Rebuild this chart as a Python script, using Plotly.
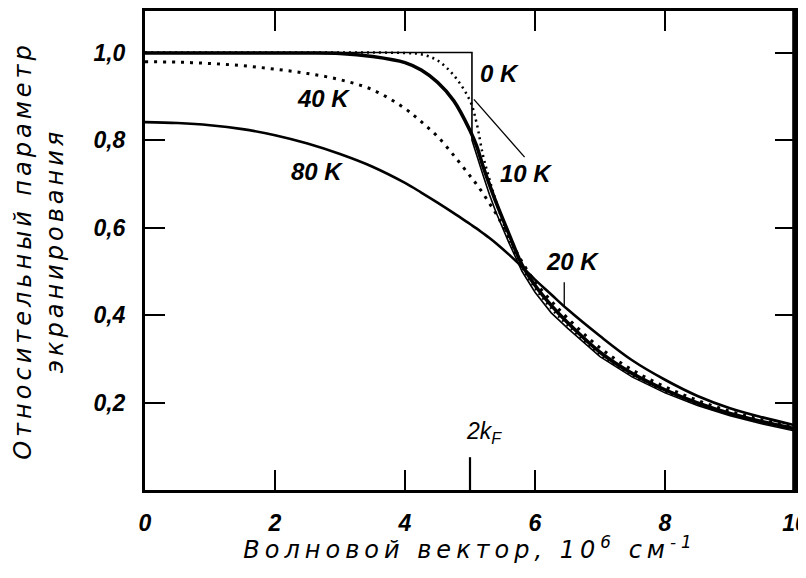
import plotly.graph_objects as go

# ---- data ----
x_0K = [0, 5.03, 5.03, 5.1, 5.2, 5.3, 5.4, 5.6, 5.8, 6, 6.25, 6.5, 7, 7.5, 8, 8.5, 9, 9.5, 10]
y_0K = [1.0, 1.0, 0.80, 0.765, 0.72, 0.675, 0.635, 0.565, 0.50, 0.452, 0.405, 0.37, 0.305, 0.258,
        0.222, 0.193, 0.17, 0.151, 0.135]

x_T = [0, 0.5, 1, 1.5, 2, 2.5, 3, 3.5, 4, 4.25, 4.5, 4.75, 5, 5.1, 5.2, 5.3, 5.4, 5.6, 5.8, 6,
       6.25, 6.5, 7, 7.5, 8, 8.5, 9, 9.5, 10]
y_10K = [1.0, 1.0, 1.0, 1.0, 1.0, 1.0, 1.0, 1.0, 0.999, 0.996, 0.982, 0.948, 0.89, 0.84, 0.765,
         0.71, 0.66, 0.575, 0.51, 0.462, 0.415, 0.377, 0.31, 0.262, 0.226, 0.196, 0.173, 0.154, 0.138]
y_20K = [0.999, 0.999, 0.999, 0.999, 0.999, 0.999, 0.998, 0.991, 0.977, 0.96, 0.932, 0.89, 0.822,
         0.787, 0.74, 0.698, 0.658, 0.585, 0.515, 0.468, 0.422, 0.383, 0.315, 0.266, 0.229, 0.199,
         0.175, 0.156, 0.14]
y_40K = [0.979, 0.978, 0.975, 0.97, 0.962, 0.952, 0.938, 0.915, 0.872, 0.842, 0.808, 0.765, 0.718,
         0.699, 0.678, 0.655, 0.632, 0.577, 0.522, 0.476, 0.432, 0.393, 0.325, 0.274, 0.236, 0.205,
         0.18, 0.16, 0.144]
y_80K = [0.841, 0.839, 0.834, 0.825, 0.811, 0.792, 0.768, 0.739, 0.702, 0.68, 0.657, 0.633, 0.608,
         0.598, 0.587, 0.576, 0.564, 0.538, 0.51, 0.481, 0.447, 0.413, 0.352, 0.296, 0.252, 0.215,
         0.187, 0.166, 0.148]

x_ticks = [0, 2, 4, 6, 8, 10]
x_ticktext = ["0", "2", "4", "6", "8", "10"]
y_ticks = [0.2, 0.4, 0.6, 0.8, 1.0]
y_ticktext = ["0,2", "0,4", "0,6", "0,8", "1,0"]
KF2 = 5.0  # 2k_F

curve_labels = ["0 K", "10 K", "20 K", "40 K", "80 K"]
label_x = [5.45, 5.86, 6.57, 2.75, 2.65]
label_y = [0.952, 0.724, 0.522, 0.896, 0.728]

FONT = "Liberation Sans, Arial, sans-serif"
TFONT = "DejaVu Sans, sans-serif"

fig = go.Figure()
fig.add_trace(go.Scatter(x=x_0K, y=y_0K, mode="lines", line=dict(color="black", width=1.6)))
fig.add_trace(go.Scatter(x=x_T, y=y_10K, mode="lines", line_shape="spline",
                         line=dict(color="black", width=2.5, dash="2px,4px")))
fig.add_trace(go.Scatter(x=x_T, y=y_20K, mode="lines", line_shape="spline",
                         line=dict(color="black", width=3.6)))
fig.add_trace(go.Scatter(x=x_T, y=y_40K, mode="lines", line_shape="spline",
                         line=dict(color="black", width=3, dash="3px,6px")))
fig.add_trace(go.Scatter(x=x_T, y=y_80K, mode="lines", line_shape="spline",
                         line=dict(color="black", width=2.6)))

for t, lx, ly in zip(curve_labels, label_x, label_y):
    fig.add_annotation(x=lx, y=ly, text=t, showarrow=False,
                       font=dict(family=FONT, size=24, color="black", style="italic", weight="bold"))

# leader lines for 10 K and 20 K
fig.add_shape(type="line", x0=5.84, y0=0.761, x1=5.06, y1=0.893, line=dict(color="black", width=1.3))
fig.add_shape(type="line", x0=6.45, y0=0.475, x1=6.45, y1=0.42, line=dict(color="black", width=1.3))

# 2k_F marker (longer tick at 2k_F)
fig.add_shape(type="line", x0=KF2, y0=0, x1=KF2, y1=0.075, line=dict(color="black", width=2.2),
              layer="above")
fig.add_annotation(x=5.22, y=0.132, text="2<i>k</i><sub>F</sub>", showarrow=False,
                   font=dict(family=FONT, size=23, color="black", style="italic"))

# right frame edge drawn explicitly in paper coordinates (not clipped to the plot area)
fig.add_shape(type="line", xref="paper", yref="paper", x0=0.998, x1=0.998, y0=0, y1=1,
              line=dict(color="black", width=3), layer="above")

axis_common = dict(showgrid=False, zeroline=False, showline=True, linecolor="black", linewidth=3,
                   mirror="ticks", ticks="inside", ticklen=20, tickwidth=1.5, tickcolor="black",
                   tickfont=dict(family=FONT, size=23, color="black", style="italic", weight="bold"))

fig.update_xaxes(range=[0, 10], tickvals=x_ticks, ticktext=x_ticktext, ticklabelstandoff=10,
                 ticklabeloverflow="allow",
                 title=dict(text='<span style="letter-spacing:5px">Волновой вектор, 10<sup>6</sup> см<sup>-1</sup></span>',
                            standoff=6,
                            font=dict(family=TFONT, size=24, color="black", style="italic")),
                 **axis_common)
fig.update_yaxes(range=[0, 1.095], tickvals=y_ticks, ticktext=y_ticktext, ticklabelstandoff=12,
                 title=dict(text='<span style="letter-spacing:4px">Относительный параметр</span><br>'
                                 '<span style="letter-spacing:4px">экранирования</span>',
                            standoff=24,
                            font=dict(family=TFONT, size=24, color="black", style="italic")),
                 **axis_common)

# page body has an 8px default margin; figure kept a little smaller than the window
fig.update_layout(width=790, height=556, margin=dict(l=137, r=3, t=3, b=74, autoexpand=False),
                  plot_bgcolor="white", paper_bgcolor="white", showlegend=False)

fig.write_html("out.html")
